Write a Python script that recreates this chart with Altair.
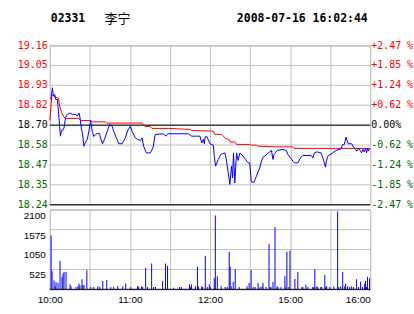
import altair as alt
import pandas as pd

# ---------------- data ----------------
stock_code = "02331"
stock_name = "李宁"
stamp = "2008-07-16 16:02:44"
prev_close = 18.70

price_ticks = [18.238, 18.3535, 18.469, 18.5845, 18.70, 18.8155, 18.931, 19.0465, 19.162]
vol_ticks = [0, 525, 1050, 1575, 2100]
x_ticks = [0, 30, 60, 90, 120, 150, 180, 210, 240]
x_label_vals = [0, 60, 120, 180, 240]
x_label_text = ["10:00", "11:00", "12:00", "15:00", "16:00"]

price_t = [0.8, 2.0, 2.7, 3.7, 4.5, 5.7, 6.7, 7.5, 8.0, 8.7, 9.7, 10.7, 11.9, 13.2, 15.2, 16.9, 19.4, 20.6,
           21.9, 22.6, 23.6, 24.6, 25.6, 26.8, 28.1, 29.3, 30.6, 31.8, 33.0, 34.3, 35.5, 37.3, 38.0, 39.5,
           41.0, 43.0, 45.0, 46.7, 47.9, 49.9, 51.7, 54.2, 56.6, 58.4, 60.4, 61.6, 64.1, 65.8, 67.8, 69.1,
           70.3, 72.3, 75.3, 77.3, 79.0, 85.2, 87.0, 88.4, 103.8, 106.3, 112.5, 113.8, 115.0, 115.8, 116.3,
           117.5, 118.7, 120.0, 122.5, 123.2, 124.2, 126.2, 128.2, 131.2, 132.4, 133.7, 134.9, 136.1, 136.9,
           137.6, 138.6, 139.1, 139.9, 141.1, 142.4, 144.8, 146.6, 148.6, 149.8, 151.0, 153.0, 154.8, 157.3,
           158.5, 159.7, 161.0, 163.0, 164.7, 166.0, 167.2, 167.9, 168.9, 170.4, 174.6, 177.1, 178.4, 180.4,
           182.1, 183.3, 185.8, 187.8, 189.6, 195.8, 197.0, 198.2, 200.2, 203.2, 204.5, 205.7, 206.4, 207.2,
           208.2, 211.9, 214.4, 218.1, 219.4, 220.6, 221.9, 222.6, 223.6, 226.1, 227.6, 228.6, 230.0, 231.3,
           232.5, 233.5, 234.5, 235.5, 236.5, 237.3, 238.0, 238.7, 239.5]
price_v = [18.849, 18.917, 18.868, 18.878, 18.849, 18.849, 18.762, 18.684, 18.636, 18.669, 18.669, 18.684,
           18.746, 18.762, 18.770, 18.762, 18.762, 18.752, 18.770, 18.746, 18.684, 18.646, 18.578, 18.601,
           18.617, 18.665, 18.727, 18.665, 18.634, 18.646, 18.652, 18.652, 18.626, 18.592, 18.617, 18.665,
           18.704, 18.694, 18.665, 18.626, 18.592, 18.592, 18.626, 18.669, 18.694, 18.665, 18.626, 18.617,
           18.611, 18.626, 18.578, 18.539, 18.539, 18.568, 18.646, 18.650, 18.636, 18.650, 18.650, 18.636,
           18.636, 18.597, 18.617, 18.592, 18.630, 18.636, 18.617, 18.592, 18.584, 18.520, 18.462, 18.501,
           18.530, 18.539, 18.491, 18.423, 18.356, 18.462, 18.394, 18.539, 18.365, 18.433, 18.539, 18.495,
           18.539, 18.520, 18.501, 18.481, 18.481, 18.369, 18.369, 18.404, 18.452, 18.491, 18.514, 18.520,
           18.534, 18.545, 18.553, 18.501, 18.530, 18.539, 18.553, 18.559, 18.553, 18.530, 18.510, 18.491,
           18.481, 18.481, 18.510, 18.524, 18.524, 18.510, 18.539, 18.545, 18.539, 18.510, 18.481, 18.456,
           18.491, 18.520, 18.539, 18.553, 18.563, 18.588, 18.588, 18.630, 18.611, 18.592, 18.592, 18.572,
           18.565, 18.549, 18.565, 18.553, 18.539, 18.559, 18.545, 18.565, 18.539, 18.565, 18.549, 18.563]

avg_t = [0.0, 0.6, 1.5, 2.5, 4.0, 6.5, 7.45, 8.9, 10.7, 11.9, 21.9, 23.1, 30.6, 31.8, 41.7, 42.5, 69.1, 70.3,
         71.5, 75.3, 76.5, 88.9, 105.1, 106.3, 122.5, 123.7, 128.7, 131.7, 134.2, 134.9, 138.6, 139.9, 149.8,
         151.0, 154.8, 156.0, 168.4, 182.1, 182.9, 240.0]
avg_v = [18.727, 18.771, 18.868, 18.874, 18.863, 18.855, 18.810, 18.772, 18.746, 18.739, 18.739, 18.727,
         18.727, 18.719, 18.719, 18.712, 18.712, 18.700, 18.692, 18.692, 18.681, 18.681, 18.675, 18.669,
         18.665, 18.646, 18.646, 18.623, 18.617, 18.603, 18.603, 18.588, 18.588, 18.584, 18.584, 18.578,
         18.574, 18.574, 18.565, 18.565]

vol_t = [1.0, 1.7, 3.2, 4.0, 4.7, 6.2, 7.7, 9.2, 9.9, 10.7, 12.2, 15.2, 15.9, 19.6, 21.1, 21.9, 22.6, 24.1,
         24.8, 25.6, 27.8, 30.8, 33.0, 36.0, 37.5, 39.7, 42.7, 45.7, 47.9, 50.9, 54.7, 56.9, 60.6, 65.8, 66.6,
         68.8, 69.6, 71.8, 73.3, 76.3, 77.8, 79.2, 84.5, 86.7, 88.2, 92.7, 97.1, 98.6, 104.6, 105.3, 106.1,
         109.1, 110.6, 111.3, 113.8, 114.5, 116.5, 118.0, 119.5, 120.2, 123.2, 124.0, 125.5, 128.4, 131.4,
         132.9, 134.4, 135.1, 135.9, 137.4, 138.9, 141.9, 147.8, 149.3, 150.8, 152.3, 153.8, 156.0, 157.5,
         159.0, 159.7, 162.0, 164.2, 165.0, 165.7, 167.2, 168.7, 170.2, 170.9, 173.2, 176.1, 176.9, 177.6,
         179.1, 179.9, 183.6, 185.8, 188.8, 189.6, 191.8, 193.3, 197.0, 197.8, 198.5, 200.0, 200.7, 203.0,
         203.7, 206.0, 206.7, 207.4, 209.7, 212.7, 215.6, 216.4, 217.9, 219.4, 220.9, 221.6, 223.1, 224.6,
         226.1, 227.6, 229.8, 231.3, 232.8, 234.3, 235.8, 236.5, 237.3, 238.0, 239.5]
vol_v = [1418, 487, 239, 89, 195, 168, 753, 328, 416, 461, 461, 133, 80, 62, 80, 151, 97, 266, 115, 115, 505,
         62, 62, 80, 62, 222, 248, 62, 62, 89, 80, 151, 62, 89, 62, 80, 62, 558, 62, 682, 62, 62, 222, 682,
         620, 44, 62, 62, 133, 62, 133, 80, 594, 80, 80, 62, 886, 62, 133, 62, 292, 1949, 346, 80, 62, 62,
         992, 594, 80, 204, 532, 62, 80, 168, 505, 62, 62, 168, 62, 80, 168, 62, 1196, 62, 62, 195, 1639, 80,
         62, 62, 346, 62, 992, 62, 1019, 275, 461, 62, 62, 124, 62, 62, 62, 532, 80, 62, 62, 62, 381, 62, 80,
         62, 80, 2055, 62, 80, 461, 80, 151, 80, 62, 80, 62, 266, 62, 204, 62, 151, 222, 62, 328, 292]

# ---------------- styling ----------------
GRID = "#c0c0c0"
BLUE = "#0000ff"
RED = "#ff0000"
GREEN = "#006600"
MONO = "DejaVu Sans Mono"
SANS = "Liberation Sans"
W = 322
HP = 160
HV = 80

price_df = pd.DataFrame({"t": price_t, "p": price_v})
avg_df = pd.DataFrame({"t": avg_t, "p": avg_v})
vol_df = pd.DataFrame({"t": vol_t, "v": vol_v})
one = pd.DataFrame({"k": [0]})

pct_list = [(p - prev_close) / prev_close * 100 for p in price_ticks]
ptick_df = pd.DataFrame({
    "p": price_ticks,
    "lab": [f"{p:.2f}" for p in price_ticks],
    "pct": [("+%.2f %%" % c) if c > 0.001 else (("-%.2f %%" % abs(c)) if c < -0.001 else " 0.00%")
            for c in pct_list],
    "side": ["up" if c > 0.001 else ("down" if c < -0.001 else "flat") for c in pct_list],
})
vtick_df = pd.DataFrame({"v": vol_ticks, "lab": [("" if v == 0 else str(v)) for v in vol_ticks]})
ref_df = pd.DataFrame({"p": [prev_close, price_ticks[0]]})
base_df = pd.DataFrame({"v": [vol_ticks[0]]})

x_scale = alt.Scale(domain=[0, 240], nice=False, zero=False)
p_scale = alt.Scale(domain=[price_ticks[0], price_ticks[-1]], nice=False, zero=False)
v_scale = alt.Scale(domain=[vol_ticks[0], vol_ticks[-1]], nice=False, zero=False)
side_color = alt.Color("side:N", scale=alt.Scale(domain=["up", "flat", "down"],
                                                 range=[RED, "#000000", GREEN]), legend=None)

lab_map = "{" + ",".join(f"'{v}':'{s}'" for v, s in zip(x_label_vals, x_label_text)) + "}"
x_label_expr = f"({lab_map})[''+datum.value] || ''"

x_grid_axis = alt.Axis(values=x_ticks, grid=True, gridColor=GRID, labels=False, ticks=False,
                       domain=False, title=None)
p_grid_axis = alt.Axis(values=price_ticks, grid=True, gridColor=GRID, gridOpacity=1, labels=False,
                       ticks=False, domain=False, title=None, labelOverlap=False)
v_grid_axis = alt.Axis(values=vol_ticks, grid=True, gridColor=GRID, gridOpacity=1, labels=False,
                       ticks=False, domain=False, title=None, labelOverlap=False)

# ---- price panel ----
p_grid = alt.Chart(ptick_df).mark_rule(color=GRID, strokeWidth=1, opacity=1).encode(
    y=alt.Y("p:Q", scale=p_scale, axis=p_grid_axis),
)
p_lab_left = alt.Chart(ptick_df).mark_text(align="right", baseline="middle", font=MONO,
                                           fontSize=10).encode(
    x=alt.value(-2), y=alt.Y("p:Q", scale=p_scale), text="lab:N", color=side_color,
)
p_lab_right = alt.Chart(ptick_df).mark_text(align="left", baseline="middle", font=MONO,
                                            fontSize=10).encode(
    x=alt.value(W + 1), y=alt.Y("p:Q", scale=p_scale), text="pct:N", color=side_color,
)
blue_line = alt.Chart(price_df).mark_line(color=BLUE, strokeWidth=1).encode(
    x=alt.X("t:Q", scale=x_scale, axis=x_grid_axis),
    y=alt.Y("p:Q", scale=p_scale),
)
red_line = alt.Chart(avg_df).mark_line(color=RED, strokeWidth=1).encode(
    x=alt.X("t:Q", scale=x_scale),
    y=alt.Y("p:Q", scale=p_scale),
)
ref_rules = alt.Chart(ref_df).mark_rule(color="#000000", strokeWidth=1).encode(
    y=alt.Y("p:Q", scale=p_scale),
)

def header_text(txt, xpos, font, size, weight):
    return alt.Chart(one).mark_text(text=txt, align="left", baseline="top", font=font,
                                    fontSize=size, fontWeight=weight, color="#000000").encode(
        x=alt.value(xpos), y=alt.value(-33))

headers = (header_text(stock_code, 1, MONO, 11.5, "bold")
           + header_text(stock_name, 55, "Noto Sans CJK SC", 13, "normal")
           + header_text(stamp, 188, MONO, 11.5, "bold"))

price_panel = alt.layer(p_grid, ref_rules, red_line, blue_line, p_lab_left, p_lab_right,
                        headers).properties(width=W, height=HP)

# ---- volume panel ----
x_align = {"condition": {"test": f"datum.value >= {x_ticks[-1]}", "value": "right"}, "value": "center"}

v_grid = alt.Chart(vtick_df).mark_rule(color=GRID, strokeWidth=1, opacity=1).encode(
    y=alt.Y("v:Q", scale=v_scale, axis=v_grid_axis),
)
v_lab = alt.Chart(vtick_df).mark_text(align="right", baseline="top", font=SANS, fontSize=10,
                                      color="#000000", dy=1).encode(
    x=alt.value(-4), y=alt.Y("v:Q", scale=v_scale), text="lab:N",
)
vol_bars = alt.Chart(vol_df).mark_rule(color=BLUE, strokeWidth=1).encode(
    x=alt.X("t:Q", scale=x_scale,
            axis=alt.Axis(values=x_ticks, grid=True, gridColor=GRID, ticks=False, domain=False,
                          labelExpr=x_label_expr, labelFont=SANS, labelFontSize=10, labelPadding=5,
                          labelColor="#000000", labelFlush=False, labelAlign=x_align,
                          labelOverlap=False, title=None)),
    y=alt.Y("v:Q", scale=v_scale),
    y2=alt.datum(0),
)
vol_base = alt.Chart(base_df).mark_rule(color="#000000", strokeWidth=1).encode(
    y=alt.Y("v:Q", scale=v_scale),
)
vol_panel = alt.layer(v_grid, vol_bars, vol_base, v_lab).properties(width=W, height=HV)

chart = alt.vconcat(price_panel, vol_panel, spacing=5, bounds="flush").properties(
    padding={"left": 17, "top": 11, "right": 0, "bottom": 0}
).configure_view(stroke=None).configure(background="#ffffff")

chart.save("out.html", embed_options={"renderer": "svg", "actions": False})
